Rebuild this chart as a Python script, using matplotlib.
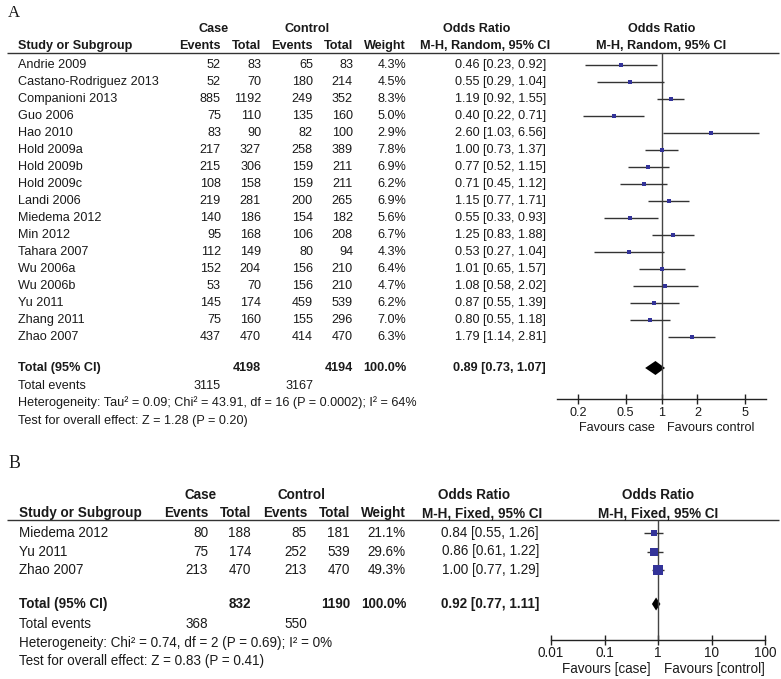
import numpy as np
import matplotlib.pyplot as plt
from matplotlib.ticker import FixedLocator, FixedFormatter, NullLocator

plt.rcParams['font.family'] = ['Liberation Sans', 'DejaVu Sans']

# Panel A data (random effects)
studies_a = ['Andrie 2009', 'Castano-Rodriguez 2013', 'Companioni 2013', 'Guo 2006',
             'Hao 2010', 'Hold 2009a', 'Hold 2009b', 'Hold 2009c', 'Landi 2006',
             'Miedema 2012', 'Min 2012', 'Tahara 2007', 'Wu 2006a', 'Wu 2006b',
             'Yu 2011', 'Zhang 2011', 'Zhao 2007']
case_ev_a = [52, 52, 885, 75, 83, 217, 215, 108, 219, 140, 95, 112, 152, 53, 145, 75, 437]
case_tot_a = [83, 70, 1192, 110, 90, 327, 306, 158, 281, 186, 168, 149, 204, 70, 174, 160, 470]
ctrl_ev_a = [65, 180, 249, 135, 82, 258, 159, 159, 200, 154, 106, 80, 156, 156, 459, 155, 414]
ctrl_tot_a = [83, 214, 352, 160, 100, 389, 211, 211, 265, 182, 208, 94, 210, 210, 539, 296, 470]
weight_a = [4.3, 4.5, 8.3, 5.0, 2.9, 7.8, 6.9, 6.2, 6.9, 5.6, 6.7, 4.3, 6.4, 4.7, 6.2, 7.0, 6.3]
or_a = [0.46, 0.55, 1.19, 0.40, 2.60, 1.00, 0.77, 0.71, 1.15, 0.55, 1.25, 0.53, 1.01, 1.08, 0.87, 0.80, 1.79]
lo_a = [0.23, 0.29, 0.92, 0.22, 1.03, 0.73, 0.52, 0.45, 0.77, 0.33, 0.83, 0.27, 0.65, 0.58, 0.55, 0.55, 1.14]
hi_a = [0.92, 1.04, 1.55, 0.71, 6.56, 1.37, 1.15, 1.12, 1.71, 0.93, 1.88, 1.04, 1.57, 2.02, 1.39, 1.18, 2.81]
total_a = dict(case_tot=4198, ctrl_tot=4194, case_ev=3115, ctrl_ev=3167, orr=0.89, lo=0.73, hi=1.07)
het_a = 'Heterogeneity: Tau² = 0.09; Chi² = 43.91, df = 16 (P = 0.0002); I² = 64%'
eff_a = 'Test for overall effect: Z = 1.28 (P = 0.20)'
ticks_a = [0.2, 0.5, 1, 2, 5]
tick_labels_a = ['0.2', '0.5', '1', '2', '5']

# Panel B data (fixed effects)
studies_b = ['Miedema 2012', 'Yu 2011', 'Zhao 2007']
case_ev_b = [80, 75, 213]
case_tot_b = [188, 174, 470]
ctrl_ev_b = [85, 252, 213]
ctrl_tot_b = [181, 539, 470]
weight_b = [21.1, 29.6, 49.3]
or_b = [0.84, 0.86, 1.00]
lo_b = [0.55, 0.61, 0.77]
hi_b = [1.26, 1.22, 1.29]
total_b = dict(case_tot=832, ctrl_tot=1190, case_ev=368, ctrl_ev=550, orr=0.92, lo=0.77, hi=1.11)
het_b = 'Heterogeneity: Chi² = 0.74, df = 2 (P = 0.69); I² = 0%'
eff_b = 'Test for overall effect: Z = 0.83 (P = 0.41)'
ticks_b = [0.01, 0.1, 1, 10, 100]
tick_labels_b = ['0.01', '0.1', '1', '10', '100']

W, H = 781, 679
TXT = '#1a1a1a'
SQ = '#333399'

fig = plt.figure(figsize=(W / 100, H / 100), dpi=100)
ax0 = fig.add_axes([0, 0, 1, 1])
ax0.set_xlim(0, W)
ax0.set_ylim(H, 0)
ax0.axis('off')


def panel(letter, y_letter, y_head, rows_y, y_tot, y_ev, y_het, y_eff, y_axis,
          cols, fs, method, studies, ce, ct, ke, kt, wt, orr, lo, hi, tot, het, eff,
          fx, xlim, ticks, tlabels, fav, sq_size, tpad, dh):
    ax0.text(8, y_letter, letter, family='Liberation Serif', fontsize=fs + 3,
             va='center', ha='left', color=TXT)
    xs, xce, xct, xke, xkt, xw, xor_r, xor_h, xcase, xctrl = cols
    y1, y2 = y_head
    kw = dict(fontsize=fs, color=TXT, va='center')
    b = dict(kw, fontweight='bold')
    ax0.text(xcase, y1, 'Case', ha='center', **b)
    ax0.text(xctrl, y1, 'Control', ha='center', **b)
    ax0.text(xor_h, y1, 'Odds Ratio', ha='center', **b)
    ax0.text(xs, y2, 'Study or Subgroup', ha='left', **b)
    ax0.text(xce, y2, 'Events', ha='right', **b)
    ax0.text(xct, y2, 'Total', ha='right', **b)
    ax0.text(xke, y2, 'Events', ha='right', **b)
    ax0.text(xkt, y2, 'Total', ha='right', **b)
    ax0.text(xw, y2, 'Weight', ha='right', **b)
    ax0.text(xor_h + 8, y2, 'M-H, %s, 95%% CI' % method, ha='center', **b)
    ax0.hlines(y2 + 6.5, 7, 779, color='#333333', lw=1.0)

    for i, y in enumerate(rows_y):
        ax0.text(xs, y, studies[i], ha='left', **kw)
        ax0.text(xce, y, str(ce[i]), ha='right', **kw)
        ax0.text(xct, y, str(ct[i]), ha='right', **kw)
        ax0.text(xke, y, str(ke[i]), ha='right', **kw)
        ax0.text(xkt, y, str(kt[i]), ha='right', **kw)
        ax0.text(xw, y, '%.1f%%' % wt[i], ha='right', **kw)
        ax0.text(xor_r, y, '%.2f [%.2f, %.2f]' % (orr[i], lo[i], hi[i]), ha='right', **kw)

    ax0.text(xs, y_tot, 'Total (95% CI)', ha='left', **b)
    ax0.text(xct, y_tot, str(tot['case_tot']), ha='right', **b)
    ax0.text(xkt, y_tot, str(tot['ctrl_tot']), ha='right', **b)
    ax0.text(xw, y_tot, '100.0%', ha='right', **b)
    ax0.text(xor_r, y_tot, '%.2f [%.2f, %.2f]' % (tot['orr'], tot['lo'], tot['hi']), ha='right', **b)
    ax0.text(xs, y_ev, 'Total events', ha='left', **kw)
    ax0.text(xce, y_ev, str(tot['case_ev']), ha='right', **kw)
    ax0.text(xke, y_ev, str(tot['ctrl_ev']), ha='right', **kw)
    ax0.text(xs, y_het, het, ha='left', **kw)
    ax0.text(xs, y_eff, eff, ha='left', **kw)

    # forest plot axes
    x0, x1 = fx
    ax = fig.add_axes([x0 / W, 0, (x1 - x0) / W, 1])
    ax.set_xscale('log')
    ax.set_xlim(*xlim)
    ax.set_ylim(H, 0)
    ax.patch.set_alpha(0)
    for s in ['top', 'left', 'right']:
        ax.spines[s].set_visible(False)
    ax.spines['bottom'].set_position(('data', y_axis))
    ax.spines['bottom'].set_color('#222222')
    ax.spines['bottom'].set_linewidth(1.0)
    ax.yaxis.set_visible(False)
    ax.xaxis.set_major_locator(FixedLocator(ticks))
    ax.xaxis.set_major_formatter(FixedFormatter(tlabels))
    ax.xaxis.set_minor_locator(NullLocator())
    ax.tick_params(axis='x', direction='inout', length=7, width=1.0, color='#222222',
                   labelsize=fs, labelcolor=TXT, pad=tpad)

    ax.text(1, y1, 'Odds Ratio', ha='center', **b)
    ax.text(1, y2, 'M-H, %s, 95%% CI' % method, ha='center', **b)
    ax.vlines(1, y2 + 6.5, y_axis, color='#444444', lw=1.0)
    ax.hlines(rows_y, lo, hi, color='#333333', lw=1.0)
    for i, y in enumerate(rows_y):
        ax.plot(orr[i], y, 's', color=SQ, ms=sq_size(wt[i]), mec=SQ, mew=0)
    ax.fill([tot['lo'], tot['orr'], tot['hi'], tot['orr']],
            [y_tot, y_tot - dh, y_tot, y_tot + dh], color='black', lw=0)
    ax.annotate(fav[0], (1, y_axis + 29), xytext=(-5, 0), textcoords='offset points',
                ha='right', **kw)
    ax.annotate(fav[1], (1, y_axis + 29), xytext=(4, 0), textcoords='offset points',
                ha='left', **kw)


rows_a = 65 + 17 * np.arange(len(studies_a))
panel('A', 13, (29, 46), rows_a, 368, 386, 403, 421, 399,
      (18, 221, 261, 313, 353, 406, 546, 477, 214, 307), 9.1, 'Random',
      studies_a, case_ev_a, case_tot_a, ctrl_ev_a, ctrl_tot_a, weight_a, or_a, lo_a, hi_a,
      total_a, het_a, eff_a, (557, 766), (10 ** -0.874, 10 ** 0.874),
      ticks_a, tick_labels_a, ('Favours case', 'Favours control'), lambda w: 3.0, 2.5, 7)

rows_b = 533 + 18.5 * np.arange(len(studies_b))
panel('B', 464, (495, 513), rows_b, 604, 624, 643, 661, 640,
      (19, 208, 251, 307, 350, 406, 539, 474, 201, 301), 9.75, 'Fixed',
      studies_b, case_ev_b, case_tot_b, ctrl_ev_b, ctrl_tot_b, weight_b, or_b, lo_b, hi_b,
      total_b, het_b, eff_b, (551, 765), (0.01, 100),
      ticks_b, tick_labels_b, ('Favours [case]', 'Favours [control]'),
      lambda w: 1.4 * np.sqrt(w) / 1.39, 1, 6.5)

fig.savefig('out.png', dpi=100)
